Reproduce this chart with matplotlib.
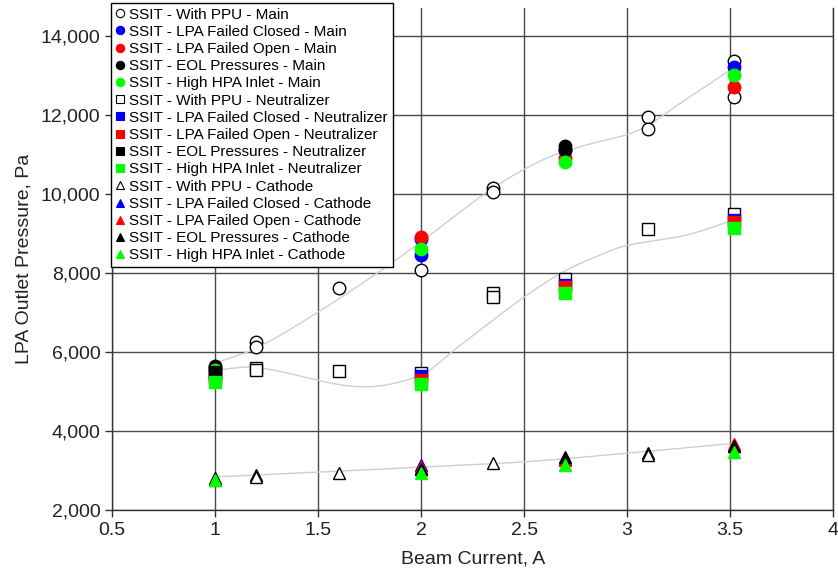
import numpy as np
import matplotlib
matplotlib.use("Agg")
import matplotlib.pyplot as plt
from matplotlib.lines import Line2D

plt.rcParams['font.family'] = ['Liberation Sans', 'DejaVu Sans']

# ---- Main flow ----
main_ppu_x = [1.2, 1.2, 1.6, 2.0, 2.35, 2.35, 3.1, 3.1, 3.52, 3.52]
main_ppu_y = [6250, 6130, 7620, 8070, 10150, 10050, 11950, 11650, 13350, 12450]
main_closed_x = [1.0, 2.0, 2.0, 2.7, 3.52]
main_closed_y = [5600, 8850, 8450, 11100, 13200]
main_open_x = [1.0, 2.0, 2.7, 3.52]
main_open_y = [5550, 8900, 10900, 12700]
main_eol_x = [1.0, 2.7, 2.7]
main_eol_y = [5650, 11200, 11100]
main_hpa_x = [1.0, 2.0, 2.7, 3.52]
main_hpa_y = [5550, 8600, 10800, 13000]

# ---- Neutralizer flow ----
neut_ppu_x = [1.0, 1.2, 1.2, 1.6, 2.0, 2.35, 2.35, 2.7, 3.1, 3.52]
neut_ppu_y = [5450, 5600, 5550, 5520, 5480, 7500, 7400, 7850, 9100, 9500]
neut_closed_x = [1.0, 2.0, 2.7, 3.52]
neut_closed_y = [5400, 5380, 7700, 9350]
neut_open_x = [1.0, 2.0, 2.7, 3.52]
neut_open_y = [5350, 5300, 7650, 9300]
neut_eol_x = [1.0]
neut_eol_y = [5500]
neut_hpa_x = [1.0, 2.0, 2.7, 3.52]
neut_hpa_y = [5250, 5200, 7480, 9130]

# ---- Cathode flow ----
cath_ppu_x = [1.2, 1.2, 1.6, 2.0, 2.35, 3.1, 3.1]
cath_ppu_y = [2890, 2850, 2940, 3050, 3190, 3450, 3400]
cath_closed_x = [1.0, 2.0, 2.7, 3.52]
cath_closed_y = [2780, 3140, 3300, 3620]
cath_open_x = [1.0, 2.0, 2.7, 3.52]
cath_open_y = [2770, 3080, 3280, 3670]
cath_eol_x = [1.0, 2.0, 2.7, 3.52]
cath_eol_y = [2800, 3050, 3340, 3610]
cath_hpa_x = [1.0, 2.0, 2.7, 3.52]
cath_hpa_y = [2750, 2940, 3140, 3480]

# ---- Smoothed trend curves ----
trend_main_x = [1.0, 1.2, 1.5, 1.81, 2.03, 2.35, 2.59, 2.77, 3.06, 3.26, 3.52]
trend_main_y = [5720, 6100, 7010, 8080, 8910, 10150, 10860, 11190, 11620, 12300, 13200]
trend_neut_x = [1.0, 1.2, 1.7, 2.0, 2.16, 2.48, 2.69, 2.87, 2.99, 3.29, 3.52]
trend_neut_y = [5540, 5610, 5120, 5420, 6050, 7316, 8025, 8456, 8684, 8962, 9342]
trend_cath_x = [1.0, 1.5, 2.0, 2.5, 3.0, 3.52]
trend_cath_y = [2840, 2960, 3090, 3220, 3440, 3690]

series = [
    ("SSIT - With PPU - Main", main_ppu_x, main_ppu_y, 'o', 'white'),
    ("SSIT - LPA Failed Closed - Main", main_closed_x, main_closed_y, 'o', '#0000ff'),
    ("SSIT - LPA Failed Open - Main", main_open_x, main_open_y, 'o', '#ff0000'),
    ("SSIT - EOL Pressures - Main", main_eol_x, main_eol_y, 'o', 'black'),
    ("SSIT - High HPA Inlet - Main", main_hpa_x, main_hpa_y, 'o', '#00ff00'),
    ("SSIT - With PPU - Neutralizer", neut_ppu_x, neut_ppu_y, 's', 'white'),
    ("SSIT - LPA Failed Closed - Neutralizer", neut_closed_x, neut_closed_y, 's', '#0000ff'),
    ("SSIT - LPA Failed Open - Neutralizer", neut_open_x, neut_open_y, 's', '#ff0000'),
    ("SSIT - EOL Pressures - Neutralizer", neut_eol_x, neut_eol_y, 's', 'black'),
    ("SSIT - High HPA Inlet - Neutralizer", neut_hpa_x, neut_hpa_y, 's', '#00ff00'),
    ("SSIT - With PPU - Cathode", cath_ppu_x, cath_ppu_y, '^', 'white'),
    ("SSIT - LPA Failed Closed - Cathode", cath_closed_x, cath_closed_y, '^', '#0000ff'),
    ("SSIT - LPA Failed Open - Cathode", cath_open_x, cath_open_y, '^', '#ff0000'),
    ("SSIT - EOL Pressures - Cathode", cath_eol_x, cath_eol_y, '^', 'black'),
    ("SSIT - High HPA Inlet - Cathode", cath_hpa_x, cath_hpa_y, '^', '#00ff00'),
]


def smooth_curve(xs, ys, n=40):
    """Catmull-Rom style cubic Hermite through the knots."""
    xs = np.asarray(xs, float)
    ys = np.asarray(ys, float)
    m = np.zeros_like(ys)
    m[1:-1] = (ys[2:] - ys[:-2]) / (xs[2:] - xs[:-2])
    m[0] = (ys[1] - ys[0]) / (xs[1] - xs[0])
    m[-1] = (ys[-1] - ys[-2]) / (xs[-1] - xs[-2])
    px, py = [], []
    for i in range(len(xs) - 1):
        h = xs[i + 1] - xs[i]
        t = np.linspace(0, 1, n)
        h00 = 2 * t**3 - 3 * t**2 + 1
        h10 = t**3 - 2 * t**2 + t
        h01 = -2 * t**3 + 3 * t**2
        h11 = t**3 - t**2
        px.append(xs[i] + t * h)
        py.append(h00 * ys[i] + h10 * h * m[i] + h01 * ys[i + 1] + h11 * h * m[i + 1])
    return np.concatenate(px), np.concatenate(py)


fig = plt.figure(figsize=(8.38, 5.79), dpi=100)
ax = fig.add_axes([0.134, 0.119, 0.860, 0.867])

ax.set_xlim(0.5, 4.0)
ax.set_ylim(2000, 14700)
ax.set_xticks(np.arange(0.5, 4.01, 0.5))
ax.set_xticklabels(["0.5", "1", "1.5", "2", "2.5", "3", "3.5", "4"])
ax.set_yticks(np.arange(2000, 14001, 2000))
ax.yaxis.set_major_formatter(matplotlib.ticker.FuncFormatter(lambda v, p: f"{int(v):,}"))
ax.tick_params(axis='both', direction='out', length=5, width=1, labelsize=14,
               color='#333333', labelcolor='#222222')

ax.grid(True, color='#4a4a4a', linewidth=1.0, zorder=0)
ax.set_axisbelow(True)
for side in ('left', 'bottom', 'right'):
    ax.spines[side].set_color('#333333')
    ax.spines[side].set_linewidth(1.0)
ax.spines['top'].set_visible(False)

for tx, ty in ((trend_main_x, trend_main_y), (trend_neut_x, trend_neut_y),
               (trend_cath_x, trend_cath_y)):
    cx, cy = smooth_curve(tx, ty)
    ax.plot(cx, cy, color='#cfcfcf', linewidth=1.0, zorder=2)

handles = []
for i, (label, xs, ys, mk, fc) in enumerate(series):
    size = 9 if mk == 'o' else (8 if mk == 's' else 8.5)
    ax.plot(xs, ys, linestyle='none', marker=mk, markersize=size,
            markerfacecolor=fc, markeredgecolor='black' if fc in ('white', 'black') else fc,
            markeredgewidth=1.0, zorder=3 + i)
    handles.append(Line2D([], [], linestyle='none', marker=mk, markersize=6,
                          markerfacecolor=fc,
                          markeredgecolor='black' if fc in ('white', 'black') else fc,
                          markeredgewidth=0.8, label=label))

ax.set_xlabel("Beam Current, A", fontsize=14, color='#222222', labelpad=8)
ax.set_ylabel("LPA Outlet Pressure, Pa", fontsize=14, color='#222222', labelpad=6)

leg = ax.legend(handles=handles, loc='upper left', bbox_to_anchor=(111 / 838, 1 - 3 / 579),
                bbox_transform=fig.transFigure, fontsize=11, frameon=True,
                fancybox=False, framealpha=1, edgecolor='black', borderpad=0.3,
                labelspacing=0.21, handlelength=0.6, handletextpad=0.3,
                borderaxespad=0)
leg.get_frame().set_linewidth(1.0)
leg.set_zorder(30)

fig.savefig("out.png", dpi=100, facecolor='white')
